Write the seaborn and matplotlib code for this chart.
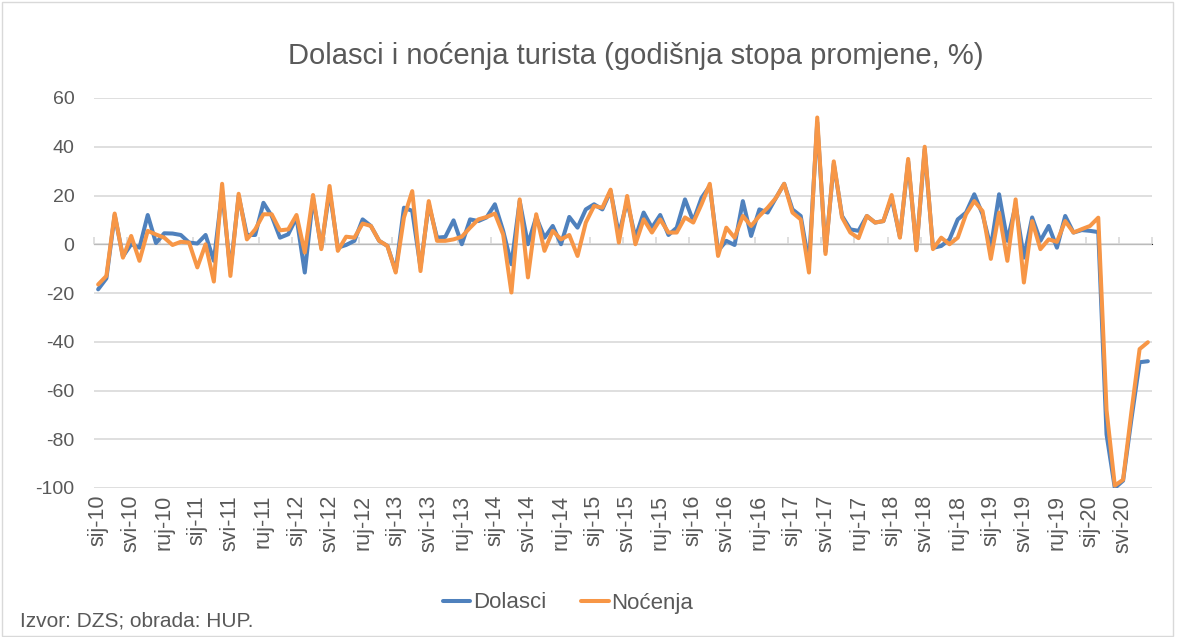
import matplotlib
matplotlib.use("Agg")
import matplotlib.pyplot as plt
import seaborn as sns
import numpy as np
import pandas as pd

# monthly data, sij-10 .. kol-20 (godisnja stopa promjene, %)
dolasci = [-18.5, -14, 12, -5, 0, -1.4, 12, 0.5, 4.5, 4.4, 3.8, 0.7,
           0.3, 3.8, -6.8, 21.8, -11, 19.8, 3.8, 3.8, 17, 11.6, 2.7, 4.1,
           11, -11.6, 19, -1.4, 21.8, -1.4, -0.3, 1.4, 10.2, 7.5, 1.4, -0.7,
           -11, 15, 13.7, -9.5, 16.4, 2.7, 3, 9.8, 0, 10.2, 9.5, 11,
           16.4, 5.5, -8.2, 17.7, 0, 11.2, 2.7, 7.5, 0, 11.2, 6.8, 14.3,
           16.4, 14.3, 21.8, 4, 17.7, 2.7, 13, 6.8, 12, 3.8, 6.8, 18.4,
           9.5, 19, 23.9, -2.7, 1.4, -0.3, 17.7, 3.4, 14.3, 13, 19, 24.8,
           14.3, 11.6, -8, 50, -3, 33, 11.6, 6.1, 5.5, 11.6, 8.9, 9.5,
           19, 3, 34, -2, 39, -1.5, -0.7, 2, 10.2, 13, 20.5, 12.3,
           -1.4, 20.5, 1.4, 16, -5.5, 11, 1.4, 7.5, -1.4, 11.6, 4.8, 5.8,
           5.5, 5, -78, -100, -97, -72, -48.4, -48]
nocenja = [-16.5, -13, 12.6, -5.5, 3.4, -6.8, 5.5, 4, 2.7, -0.3, 1, 0.7,
           -9.5, 0, -15.3, 24.8, -13, 20.7, 2, 6.1, 12.3, 12.3, 5.7, 6.1,
           12, -3.4, 20.2, -2, 23.9, -2.7, 3.1, 2.7, 8.5, 7.5, 1.4, -0.7,
           -11.6, 11, 21.8, -11, 17.7, 1.4, 1.4, 2, 3.1, 6.8, 10.2, 11.2,
           12.6, 4, -19.8, 18.4, -13.6, 12.3, -2.7, 5.5, 2, 3.8, -4.8, 8.9,
           15.7, 15, 22.4, 0.7, 19.8, 0, 10.2, 4.8, 10.2, 4.8, 4.8, 11,
           8.9, 16.4, 24.8, -4.8, 6.8, 2.7, 11.6, 7.5, 11.6, 15, 19, 24.8,
           13, 10.2, -11.6, 52, -4, 34, 11, 4.8, 2.5, 11.6, 8.9, 9.5,
           20.2, 2.7, 35, -2.5, 40, -2, 2.7, 0, 2.7, 12.3, 17.7, 13.6,
           -6, 13, -6.8, 18.4, -15.7, 9.5, -2, 2, 1, 9.5, 4.8, 6.2,
           7.5, 10.9, -68, -99, -96.6, -69, -43, -40.2]
mjeseci = ['sij', 'svi', 'ruj']
godine = list(range(10, 21))
tick_labels = [m + '-' + str(g) for g in godine for m in mjeseci][:32]

n = len(dolasci)
df = pd.DataFrame({'t': np.arange(n), 'Dolasci': dolasci, 'Noćenja': nocenja})

sns.set_style('white')
plt.rcParams['font.family'] = ['Liberation Sans', 'DejaVu Sans']
plt.rcParams['axes.unicode_minus'] = False
grey = '#595959'

fig = plt.figure(figsize=(11.8, 6.37), dpi=100)
ax = fig.add_axes([94 / 1180, 1 - 488 / 637, (1152 - 94) / 1180, (488 - 98) / 637])

sns.lineplot(data=df, x='t', y='Dolasci', ax=ax, color='#4F81BD', lw=2.9, label='Dolasci')
sns.lineplot(data=df, x='t', y='Noćenja', ax=ax, color='#F79646', lw=2.9, label='Noćenja')

ax.set_xlim(-0.5, n - 0.5)
ax.set_ylim(-100, 60)
ax.set_yticks(np.arange(-100, 61, 20))
ax.yaxis.grid(True, color='#D9D9D9', lw=1.2)
ax.set_axisbelow(True)
for s in ax.spines.values():
    s.set_visible(False)
ax.set_xlabel('')
ax.set_ylabel('')

ax.set_xticks(np.arange(0, n, 4))
ax.set_xticklabels(tick_labels, rotation=90, fontsize=15.5, color=grey)
ax.tick_params(axis='x', length=0, pad=5)
ax.tick_params(axis='y', length=0, pad=14, labelsize=14, labelcolor=grey)

# horizontal axis line at zero with tick marks between groups
sec = ax.secondary_xaxis(100 / 160)
sec.spines['bottom'].set_color('#D9D9D9')
sec.spines['bottom'].set_linewidth(1.2)
sec.set_xticks(np.arange(-0.5, n, 4))
sec.set_xticklabels([])
sec.tick_params(axis='x', direction='out', length=5, width=1.2, color='#D9D9D9')

ax.get_legend().remove()
h, l = ax.get_legend_handles_labels()
fig.legend(h, l, loc='center', bbox_to_anchor=(568 / 1180, 1 - 603 / 637), ncol=2,
           frameon=False, fontsize=16, handlelength=1.25, handletextpad=0.1,
           columnspacing=1.6, labelcolor=grey)

fig.text(636 / 1180, 1 - 56 / 637, 'Dolasci i noćenja turista (godišnja stopa promjene, %)',
         ha='center', va='center', fontsize=21, color=grey)
fig.text(20 / 1180, 1 - 621 / 637, 'Izvor: DZS; obrada: HUP.', ha='left', va='center',
         fontsize=15, color=grey)

fig.patches.append(plt.Rectangle((0.002, 0.002), 0.992, 0.995, transform=fig.transFigure,
                                 fill=False, edgecolor='#D9D9D9', lw=1))

fig.savefig('out.png', dpi=100)
